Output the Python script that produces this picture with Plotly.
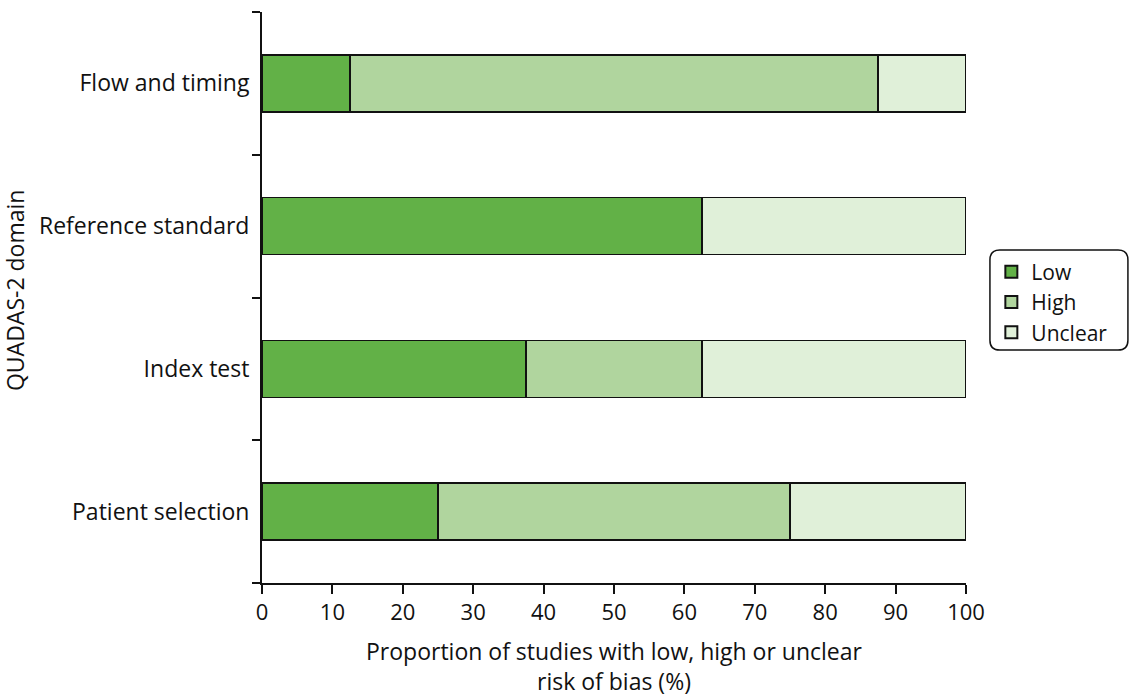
import plotly.graph_objects as go

categories = ["Patient selection", "Index test", "Reference standard", "Flow and timing"]
low = [25, 37.5, 62.5, 12.5]
high = [50, 25, 0, 75]
unclear = [25, 37.5, 37.5, 12.5]
series_names = ["Low", "High", "Unclear"]
colors = ["#62b147", "#b0d59e", "#e0f0d9"]
x_ticks = [0, 10, 20, 30, 40, 50, 60, 70, 80, 90, 100]

FS = 23
fig = go.Figure()
for name, vals, col in zip(series_names, [low, high, unclear], colors):
    fig.add_trace(go.Bar(
        y=categories, x=vals, name=name, orientation="h",
        marker=dict(color=col, line=dict(color="#111111", width=1.5)),
        width=0.4,
    ))

fig.update_layout(
    barmode="stack",
    width=1130, height=696,
    margin=dict(l=262, r=164, t=12, b=113),
    plot_bgcolor="white", paper_bgcolor="white",
    font=dict(family="Open Sans, Noto Sans, sans-serif", size=FS, color="#111111"),
    showlegend=True,
    legend=dict(
        traceorder="normal",
        x=1.036, y=0.492, xanchor="left", yanchor="middle",
        bgcolor="rgba(0,0,0,0)", borderwidth=0,
        font=dict(size=21),
        itemsizing="constant",
        tracegroupgap=0,
    ),
    xaxis=dict(
        range=[0, 100], tickvals=x_ticks, showgrid=False, zeroline=False,
        showline=True, linecolor="#111111", linewidth=2,
        ticks="outside", ticklen=9, tickwidth=1.5, tickcolor="#111111",
        tickfont=dict(size=22),
    ),
    yaxis=dict(
        type="category", categoryorder="array", categoryarray=categories,
        range=[-0.5, 3.5], tickson="boundaries", showgrid=False, zeroline=False,
        showline=True, linecolor="#111111", linewidth=2,
        ticks="outside", ticklen=8, tickwidth=1.5, tickcolor="#111111",
        ticksuffix=" ",
    ),
)

# axis titles
fig.add_annotation(text="Proportion of studies with low, high or unclear",
                   xref="paper", yref="paper", x=0.5, y=-0.119,
                   xanchor="center", yanchor="middle", showarrow=False,
                   font=dict(size=FS))
fig.add_annotation(text="risk of bias (%)",
                   xref="paper", yref="paper", x=0.5, y=-0.1716,
                   xanchor="center", yanchor="middle", showarrow=False,
                   font=dict(size=FS))
fig.add_annotation(text="QUADAS-2 domain", textangle=-90,
                   xref="paper", yref="paper", x=-0.3509, y=0.513,
                   xanchor="center", yanchor="middle", showarrow=False,
                   font=dict(size=FS))

# rounded legend frame
x0, x1, y0, y1, r = 1.034, 1.230, 0.408, 0.583, 0.014
ry = r * 704 / 571
path = (f"M {x0+r},{y0} L {x1-r},{y0} Q {x1},{y0} {x1},{y0+ry} "
        f"L {x1},{y1-ry} Q {x1},{y1} {x1-r},{y1} L {x0+r},{y1} "
        f"Q {x0},{y1} {x0},{y1-ry} L {x0},{y0+ry} Q {x0},{y0} {x0+r},{y0} Z")
fig.add_shape(type="path", path=path, xref="paper", yref="paper",
              line=dict(color="#111111", width=1.5), fillcolor="rgba(0,0,0,0)")

fig.write_html("out.html", config={"displayModeBar": False},
               post_script="document.body.style.margin='0';")
